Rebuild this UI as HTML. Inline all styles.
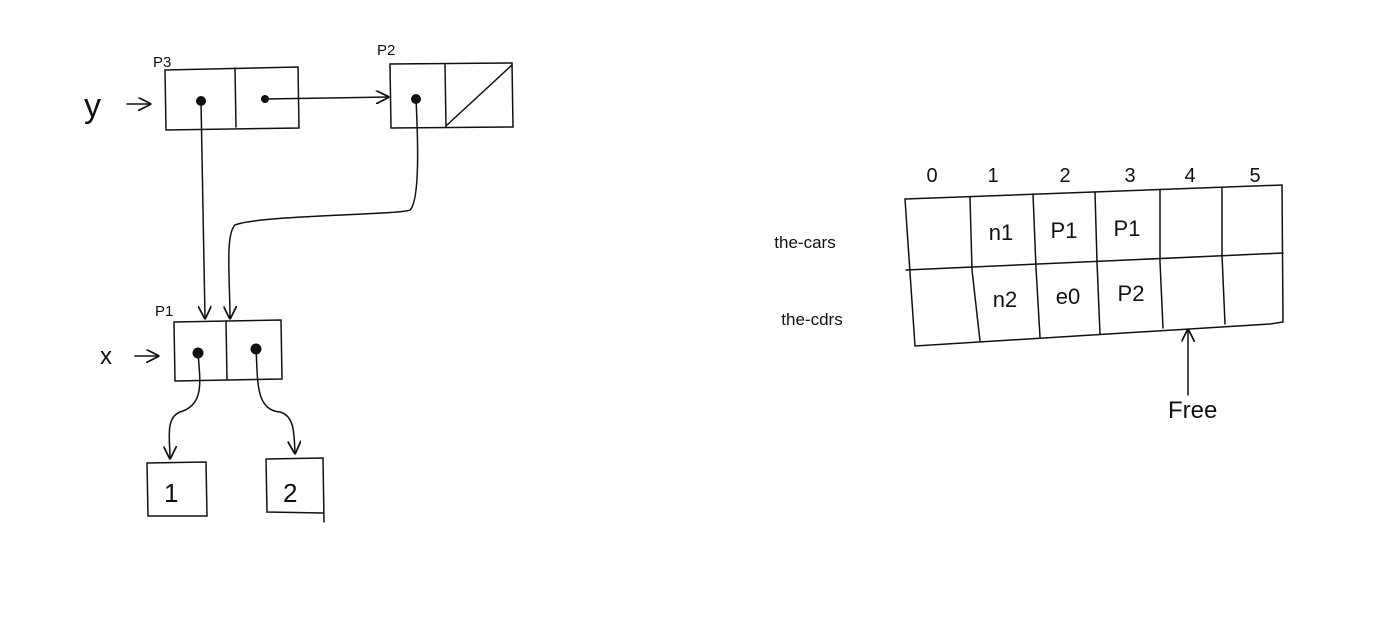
<!DOCTYPE html>
<html><head><meta charset="utf-8"><style>
html,body{margin:0;padding:0;background:#fff;}
svg{display:block;}
text{font-family:"Liberation Sans",sans-serif;fill:#111;}
</style></head><body>
<svg id="s" width="1382" height="640" viewBox="0 0 1382 640">
<defs><marker id="ah" viewBox="0 0 10 10" refX="9" refY="5" markerWidth="9" markerHeight="9" orient="auto-start-reverse"><path d="M0,0 L10,5 L0,10" fill="none" stroke="#111" stroke-width="1.3"/></marker></defs>
<g fill="none" stroke="#111" stroke-width="1.5" stroke-linecap="round">
 <!-- y pair P3 -->
 <g>
  <path d="M165,70 L298,67 L299,128 L166,130 Z"/>
  <path d="M235,68 L236,127"/>
 </g>
 <path d="M265,99 L388,97" marker-end="url(#ah)"/>
 <!-- P2 -->
 <g>
  <path d="M390,64 L512,63 L513,127 L391,128 Z"/>
  <path d="M445,64 L446,127 M447,125 L512,65"/>
 </g>
 <path d="M201,101 L203,210 L205,318" marker-end="url(#ah)"/>
 <path d="M416,99 C418,140 420,200 410,210 C400,215 260,215 235,225 C225,235 230,280 230,318" marker-end="url(#ah)"/>
 <!-- P1 -->
 <g>
  <path d="M174,322 L281,320 L282,379 L175,381 Z"/>
  <path d="M226,321 L227,380"/>
 </g>
 <path d="M198,353 C200,380 205,405 180,412 C165,418 170,440 170,458" marker-end="url(#ah)"/>
 <path d="M256,349 C258,380 255,410 280,412 C295,416 294,435 295,453" marker-end="url(#ah)"/>
 <path d="M147,463 L206,462 L207,516 L148,516 Z"/>
 <path d="M266,459 L323,458 L324,522 M266,459 L267,512 L323,513"/>
 <path d="M127,104 L150,104" marker-end="url(#ah)"/>
 <path d="M135,356 L158,356" marker-end="url(#ah)"/>
 <!-- table -->
 <g>
  <path d="M905,199 L1282,185 L1283,322 L1270,324 L915,346 Z"/>
  <path d="M906,270 L1283,253"/>
  <path d="M970,197 L972,270 L980,341"/>
  <path d="M1033,194 L1036,268 L1040,337"/>
  <path d="M1095,192 L1097,262 L1100,334"/>
  <path d="M1160,190 L1160,262 L1163,328"/>
  <path d="M1222,188 L1222,255 L1225,324"/>
 </g>
 <path d="M1188,395 L1188,330" marker-end="url(#ah)"/>
</g>
<g fill="#111">
 <circle cx="201" cy="101" r="5"/><circle cx="265" cy="99" r="4"/><circle cx="416" cy="99" r="5"/>
 <circle cx="198" cy="353" r="5.5"/><circle cx="256" cy="349" r="5.5"/>
</g>
<text x="153" y="67" font-size="15">P3</text>
<text x="377" y="55" font-size="15">P2</text>
<text x="155" y="316" font-size="15">P1</text>
<text x="84" y="117" font-size="34">y</text>
<text x="100" y="364" font-size="24">x</text>
<text x="164" y="502" font-size="26">1</text>
<text x="283" y="502" font-size="26">2</text>
<text x="1168" y="418" font-size="24">Free</text>
<g id="tbl"></g>
</svg>
<script>
const rowLabels = ["the-cars", "the-cdrs"];
const colIndex = ["0", "1", "2", "3", "4", "5"];
const carsValues = ["", "n1", "P1", "P1", "", ""];
const cdrsValues = ["", "n2", "e0", "P2", "", ""];
const colX = [932, 993, 1065, 1130, 1190, 1255];
const g = document.getElementById('tbl');
function t(x, y, s, size, name) {
  const e = document.createElementNS('http://www.w3.org/2000/svg', 'text');
  e.setAttribute('x', x); e.setAttribute('y', y); e.setAttribute('font-size', size);
  e.setAttribute('text-anchor', 'middle');
  
  
  e.textContent = s; g.appendChild(e);
}
colIndex.forEach((c, i) => t(colX[i], 182, c, 20, 'column-index'));
t(805, 248, rowLabels[0], 17, 'row-label');
t(812, 325, rowLabels[1], 17, 'row-label');
const mid = [937, 1001, 1064, 1127, 1190, 1252];
carsValues.forEach((v, i) => { if (v) t(mid[i], 242 - i * 2, v, 22, 'cell-car'); });
cdrsValues.forEach((v, i) => { if (v) t(mid[i] + 4, 310 - i * 3, v, 22, 'cell-cdr'); });
</script>
</body></html>
